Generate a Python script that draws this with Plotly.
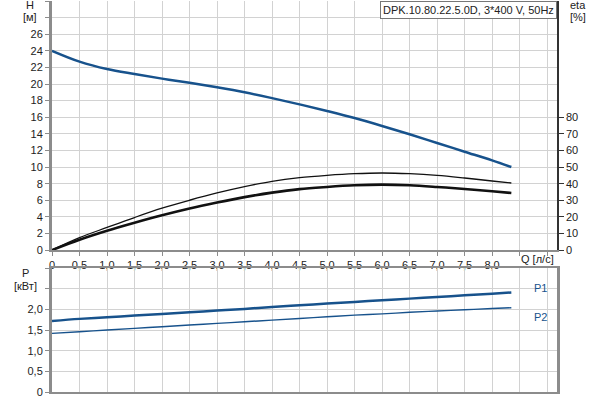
import plotly.graph_objects as go

# flow rate, l/s
q = [0, 0.5, 1.0, 1.5, 2.0, 2.5, 3.0, 3.5, 4.0, 4.5, 5.0, 5.5, 6.0, 6.5, 7.0, 7.5, 8.0, 8.35]
# head, m
head = [24.0, 22.7, 21.8, 21.2, 20.65, 20.15, 19.6, 19.0, 18.3, 17.55, 16.75, 15.9, 14.95, 13.95, 12.9, 11.85, 10.8, 10.0]
# efficiency, % (thin = pump, thick = total)
eta_pump = [0, 7.5, 13.6, 19.6, 25.2, 30.0, 34.4, 38.2, 41.4, 43.6, 45.0, 46.0, 46.4, 46.0, 45.0, 43.4, 41.6, 40.4]
eta_total = [0, 6.2, 11.6, 16.4, 20.9, 25.0, 28.6, 31.9, 34.6, 36.7, 38.0, 39.0, 39.4, 39.0, 38.0, 36.8, 35.4, 34.4]
# power, kW
p1 = [1.72, 1.77, 1.81, 1.85, 1.89, 1.93, 1.97, 2.01, 2.06, 2.10, 2.14, 2.18, 2.22, 2.26, 2.30, 2.34, 2.38, 2.41]
p2 = [1.42, 1.46, 1.50, 1.54, 1.58, 1.62, 1.66, 1.70, 1.74, 1.78, 1.82, 1.86, 1.89, 1.93, 1.96, 1.99, 2.02, 2.04]

q_ticks = [i * 0.5 for i in range(19)]
q_labels = ['0'] + [f'{v:.1f}'.replace('.', ',') for v in q_ticks[1:17]] + ['', '']
h_ticks = list(range(0, 31, 2))
h_labels = [str(v) for v in range(0, 27, 2)] + ['', '']
eta_ticks = list(range(0, 81, 10))
p_ticks = [0, 0.5, 1.0, 1.5, 2.0, 2.5, 3.0]
p_labels = ['0', '0,5', '1,0', '1,5', '2,0', '', '']

BLUE = '#17528c'
GRID = '#d2d2d2'
AXIS = '#8c8c8c'
FONT = dict(family='Liberation Sans, Arial, sans-serif', size=11, color='#222222')

fig = go.Figure()

fig.add_trace(go.Scatter(x=q, y=head, mode='lines', line=dict(color=BLUE, width=2.5, shape='spline'),
                         xaxis='x', yaxis='y', showlegend=False))
fig.add_trace(go.Scatter(x=q, y=eta_pump, mode='lines', line=dict(color='#111111', width=1.3, shape='spline'),
                         xaxis='x', yaxis='y3', showlegend=False))
fig.add_trace(go.Scatter(x=q, y=eta_total, mode='lines', line=dict(color='#111111', width=2.6, shape='spline'),
                         xaxis='x', yaxis='y3', showlegend=False))
fig.add_trace(go.Scatter(x=q, y=p1, mode='lines', line=dict(color=BLUE, width=2.5, shape='spline'),
                         xaxis='x2', yaxis='y2', showlegend=False))
fig.add_trace(go.Scatter(x=q, y=p2, mode='lines', line=dict(color=BLUE, width=1.4, shape='spline'),
                         xaxis='x2', yaxis='y2', showlegend=False))

x_common = dict(range=[0, 9.18], tickvals=q_ticks, showgrid=True, gridcolor=GRID,
                gridwidth=1, zeroline=False, fixedrange=True, automargin=False)

fig.update_layout(
    template='none',
    width=600, height=400,
    margin=dict(l=52, r=43, t=1, b=8, autoexpand=False),
    paper_bgcolor='white', plot_bgcolor='white',
    font=FONT,
    xaxis=dict(**x_common, anchor='y', ticktext=q_labels, ticks='outside', ticklen=4,
               tickcolor=AXIS, showline=True, linecolor=AXIS, linewidth=2),
    yaxis=dict(domain=[0.363, 1], range=[0, 30], tickvals=h_ticks, ticktext=h_labels,
               showgrid=True, gridcolor=GRID, zeroline=False, ticks='outside', ticklen=4,
               tickcolor=AXIS, showline=True, linecolor=AXIS, linewidth=3, automargin=False),
    yaxis3=dict(overlaying='y', side='right', anchor='x', range=[0, 150],
                tickvals=eta_ticks, showgrid=False, zeroline=False, ticks='outside',
                ticklen=5, tickcolor='#333333', showline=True, linecolor='#333333',
                linewidth=1.5, automargin=False),
    xaxis2=dict(**x_common, anchor='y2', showticklabels=False, showline=True,
                linecolor=AXIS, linewidth=2, mirror=True),
    yaxis2=dict(domain=[0, 0.317], range=[0, 3], tickvals=p_ticks, ticktext=p_labels,
                showgrid=True, gridcolor=GRID, zeroline=False, ticks='outside', ticklen=4,
                tickcolor=AXIS, showline=True, linecolor=AXIS, linewidth=3, mirror=True,
                automargin=False),
)

def label(text, x, y, color='#222222'):
    fig.add_annotation(text=text, x=x, y=y, xref='paper', yref='paper', showarrow=False,
                       xanchor='center', yanchor='middle', borderpad=0,
                       font=dict(family=FONT['family'], size=11, color=color))

label('H', -0.044, 0.990)
label('[м]', -0.044, 0.958)
label('eta', 1.042, 0.990)
label('[%]', 1.042, 0.958)
label('Q [л/с]', 0.962, 0.340)
label('P', -0.053, 0.305)
label('[кВт]', -0.053, 0.272)
label('P1', 0.968, 0.266, color=BLUE)
label('P2', 0.968, 0.192, color=BLUE)

fig.add_annotation(text='DPK.10.80.22.5.0D, 3*400 V, 50Hz', x=1, y=1, xref='paper',
                   yref='paper', xanchor='right', yanchor='top', showarrow=False,
                   bgcolor='white', bordercolor='#777777', borderwidth=1, borderpad=2,
                   font=dict(family=FONT['family'], size=11, color='#222222'))

# drop the browser's default page margin so the chart sits at the window's corner
fig.write_html('out.html', config={'displayModeBar': False},
               post_script="document.body.style.margin='0';")
